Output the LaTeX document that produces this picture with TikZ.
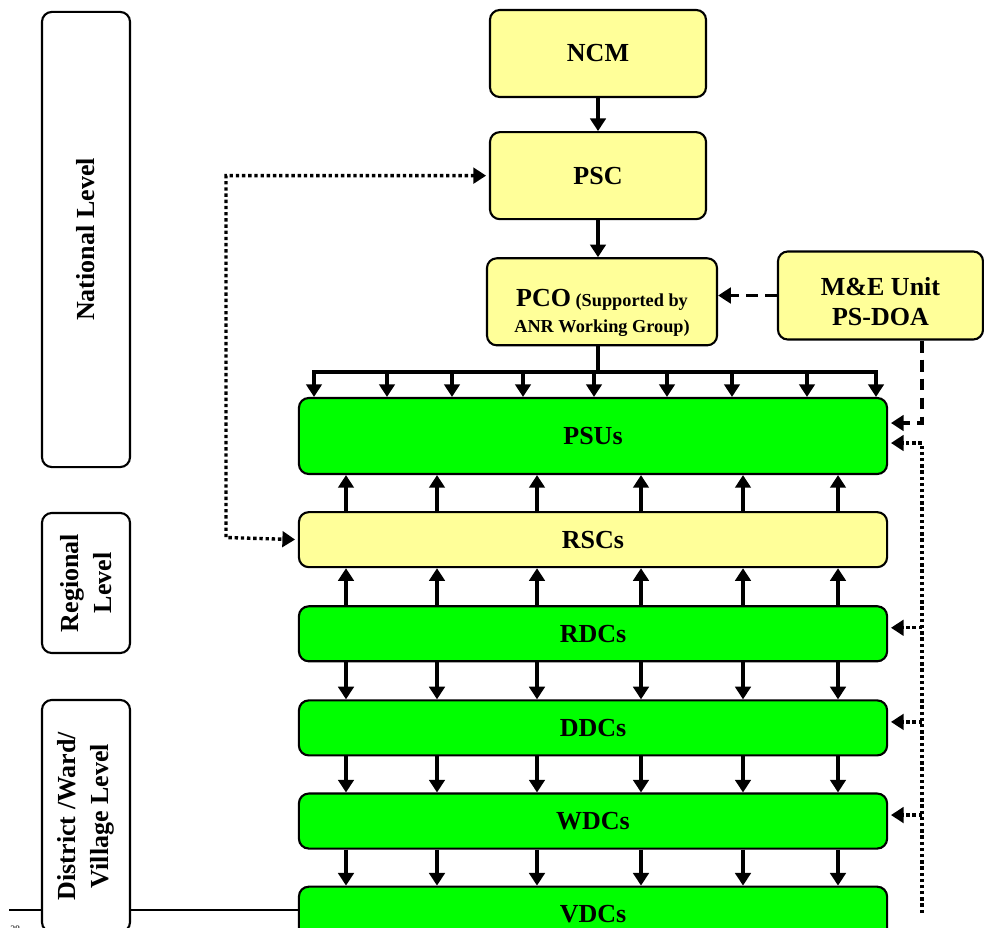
\documentclass[tikz,border=0pt]{standalone}
\usepackage{fontspec}
\setmainfont{Liberation Serif}
\usetikzlibrary{arrows.meta,positioning}
\definecolor{pcyellow}{RGB}{255,255,153}
\definecolor{pcgreen}{RGB}{0,255,0}

\begin{document}
\begin{tikzpicture}[
			x=0.025cm, y=-0.025cm,
			rec/.style  = {draw, line width=1.5pt, rounded corners=7pt, inner sep=0pt, align=center, font=\bfseries\fontsize{18.5}{21}\selectfont},
			yel/.style  = {rec, fill=pcyellow},
			grn/.style  = {rec, fill=pcgreen, minimum width=14.7cm, minimum height=1.375cm},
			lvl/.style  = {rec, fill=white, rotate=90, minimum height=2.2cm, font=\bfseries\fontsize{18.5}{23}\selectfont},
			arr/.style  = {->, line width=2.8pt},
			dotarr/.style  = {->, line width=2.4pt, dash pattern=on 2.4pt off 2pt, shorten >=2pt, shorten <=2pt},
			dasharr/.style = {->, line width=2.6pt, dash pattern=on 8.5pt off 5pt},
			>={Triangle[length=9pt,width=11pt]}]
			
			\useasboundingbox (0,0) rectangle (984,927);
			\clip (0,0) rectangle (984,927);
			
			% page foot line, behind the level boxes
			\coordinate (footl) at (9,910);
			\node[anchor=base west, inner sep=0pt, font=\fontsize{7}{8}\selectfont] (pagenum) at (10,932) {28};
			
			% national column
			\node[yel, minimum width=5.4cm, minimum height=2.175cm] (ncm) at (598,53.5) {NCM};
			\node[yel, minimum width=5.4cm, minimum height=2.175cm, below=0.825cm of ncm] (psc) {PSC};
			\node[yel, minimum width=5.75cm, minimum height=2.175cm, below=0.925cm of psc, xshift=0.1cm] (pco) {};
			\node[font=\bfseries\fontsize{13}{18}\selectfont, align=center] (pcotxt) at ([yshift=-0.275cm]pco.center)
			{{\fontsize{18.5}{18}\selectfont PCO} (Supported by\\ANR Working Group)};
			\node[yel, minimum width=5.125cm, minimum height=2.2cm] (me) at (880.5,295.5) {};
			\node[font=\bfseries\fontsize{18.5}{21}\selectfont, align=center] (metxt) at ([yshift=-0.15cm]me.center) {M\&E Unit\\PS-DOA};
			
			% the committee stack
			\begin{scope}[every node/.style={grn}]
				\node[minimum height=1.9cm] (psu) at (593,436) {PSUs};
				\node[fill=pcyellow, below=0.9cm of psu] (rsc) {RSCs};
				\node[below=0.925cm of rsc] (rdc) {RDCs};
				\node[below=0.925cm of rdc] (ddc) {DDCs};
				\node[below=0.9cm of ddc] (wdc) {WDCs};
				\node[below=0.9cm of wdc] (vdc) {VDCs};
			\end{scope}
			
			\draw[line width=1pt] (footl) -- (footl -| vdc.west);
			
			% level boxes on the left
			\node[lvl, minimum width=11.375cm] (natl) at (86,239.5) {National Level};
			\node[lvl, minimum width=3.5cm] (regl) at (86,583) {Regional\\Level};
			\node[lvl, minimum width=5.8cm] (distl) at (86,816) {District /Ward/\\Village Level};
			
			% top chain and the bus into the PSUs
			\coordinate (busl) at (314,372);
			\coordinate (busr) at (876,372);
			\draw[arr] (ncm) -- (psc);
			\draw[arr] (psc.south) -- (psc.south |- pco.north);
			\draw[line width=2.8pt] (pco.south -| psc.south) -- (busl -| psc.south);
			\draw[line width=2.8pt, line cap=rect] (busl) -- (busr);
			\foreach \x in {314,387,452,523,594,667,732,807,876}
			\draw[arr] (\x,0 |- busl) -- (\x,0 |- psu.north);
			
			% arrows between the stacked boxes
			\foreach \x in {346,437,537,641,743,838} {
				\draw[arr] (\x,0 |- rsc.north) -- (\x,0 |- psu.south);
				\draw[arr] (\x,0 |- rdc.north) -- (\x,0 |- rsc.south);
				\draw[arr] (\x,0 |- rdc.south) -- (\x,0 |- ddc.north);
				\draw[arr] (\x,0 |- ddc.south) -- (\x,0 |- wdc.north);
				\draw[arr] (\x,0 |- wdc.south) -- (\x,0 |- vdc.north);
			}
			
			% M&E unit links
			\coordinate (meturn) at (922,423);
			\draw[dasharr] (me.west) -- (me.west -| pco.east);
			\draw[dasharr, shorten >=2pt] (me.south -| meturn) -- (meturn) -- (meturn -| psu.east);
			
			% dotted rail on the right
			\coordinate (railtop) at (922,443);
			\coordinate (railbot) at (922,913);
			\draw[dotarr, shorten <=0pt] (railbot) -- (railtop) -- (railtop -| psu.east);
			\foreach \b in {rdc,ddc,wdc} {
				\coordinate (\b in) at ([yshift=0.15cm]\b.east);
				\draw[dotarr, shorten <=0pt] (\b in -| railtop) -- (\b in);
			}
			
			% dotted link PSC -- RSCs
			\coordinate (dotcorner) at (226,537.5);
			\draw[dotarr, <->] (psc.west) -| (dotcorner) -- (rsc.west);
		\end{tikzpicture}
\end{document}
